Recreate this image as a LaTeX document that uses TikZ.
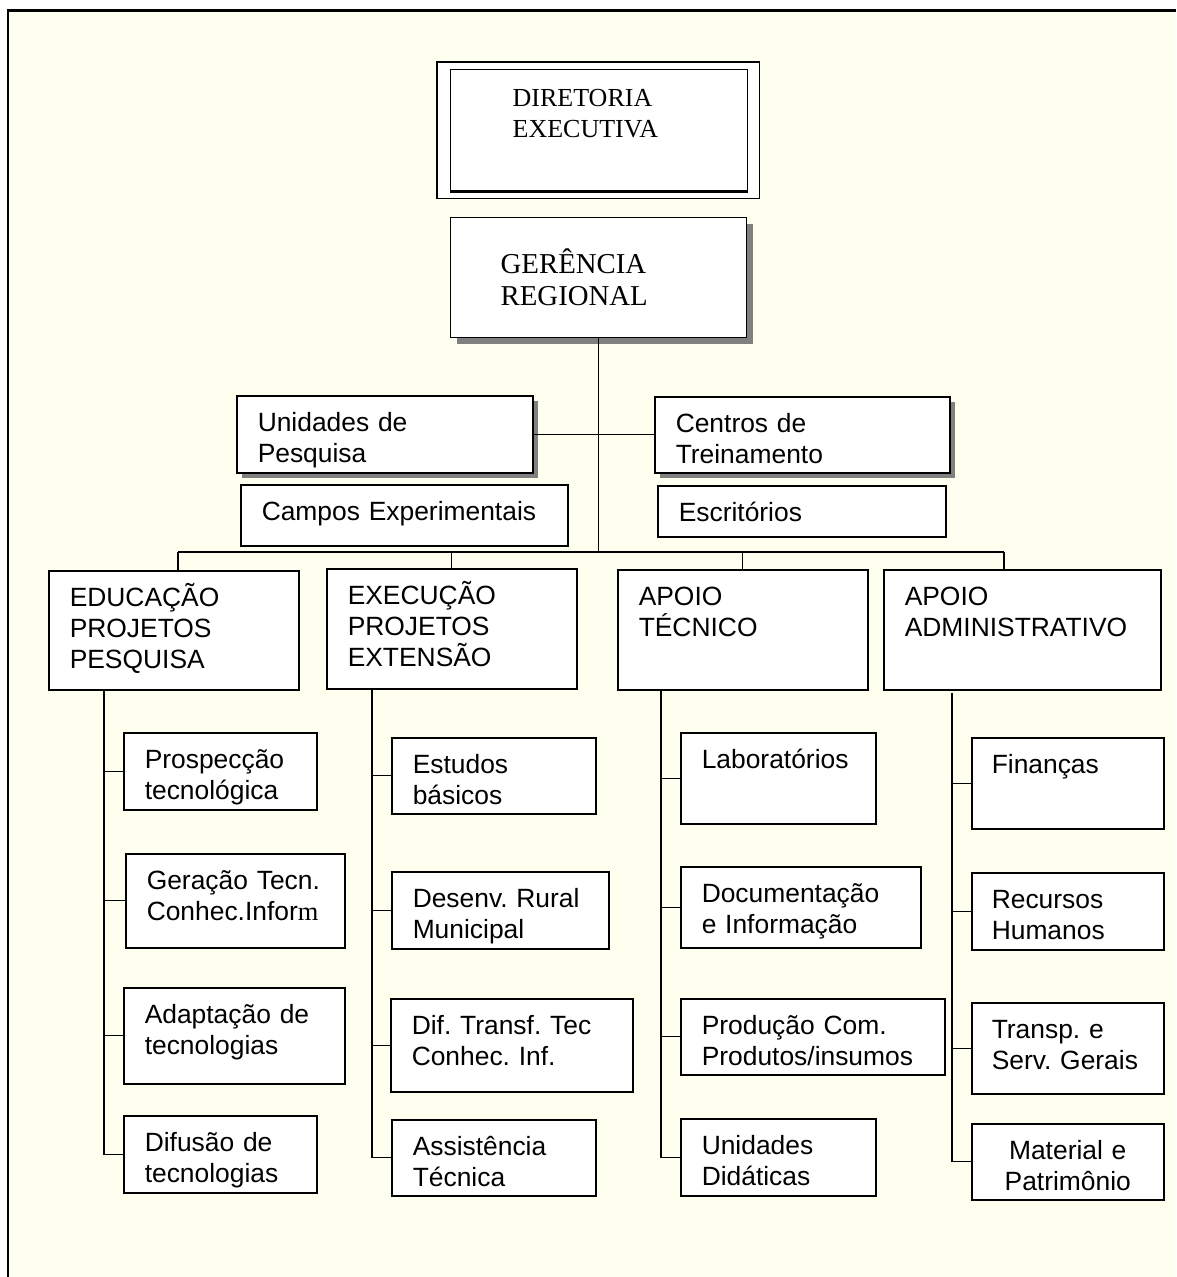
\documentclass[tikz,border=0pt]{standalone}
\usepackage{fontspec}
\setmainfont{Liberation Serif}
\setsansfont{Liberation Sans}
\usepackage{tikz}
\usetikzlibrary{positioning,calc,shadows,backgrounds}
\definecolor{orgivory}{HTML}{FFFFF0}
\definecolor{orgshade}{HTML}{808080}
\newcommand{\nohyph}{\hyphenpenalty=10000\exhyphenpenalty=10000\frenchspacing\relax}
\newcommand{\boxfont}{\sffamily\fontsize{26.4pt}{31pt}\selectfont\nohyph}
\tikzset{
  orgbox/.style    = {draw, fill=white, line width=1.5pt, anchor=north west,
                      align=left, inner xsep=21pt, inner ysep=0pt,
                      text height=36pt, font=\boxfont},
  shadowbox/.style = {orgbox, drop shadow={shadow xshift=5pt, shadow yshift=-5pt,
                      fill=orgshade, opacity=1}},
  dirbox/.style    = {orgbox, line width=1.3pt, inner xsep=62pt, text height=37pt,
                      font=\rmfamily\fontsize{26pt}{31pt}\selectfont},
  gerbox/.style    = {orgbox, line width=1.3pt, inner xsep=50pt, text height=55.5pt,
                      font=\rmfamily\fontsize{28.8pt}{32pt}\selectfont,
                      drop shadow={shadow xshift=6pt, shadow yshift=-6pt,
                      fill=orgshade, opacity=1}},
  link/.style      = {draw, line width=1.4pt},
}

\begin{document}
\begin{tikzpicture}[x=1pt, y=-1pt]

  \useasboundingbox (0,0) rectangle (1176,1277);

  % top of the chart
  \node[dirbox, text width=173pt, text depth=84pt] (dir) at (450,69)
      {DIRETORIA\\EXECUTIVA};
  \draw[line width=2.6pt] (dir.south west) -- (dir.south east);
  \node[gerbox, text width=196pt, text depth=64.5pt] (ger) at (450,217)
      {GERÊNCIA\\REGIONAL};

  % units hanging on the spine
  \node[shadowbox, text width=254pt, text depth=41pt] (unid) at (236,395)
      {Unidades de\\Pesquisa};
  \node[shadowbox, text width=253pt, text depth=40pt] (centros) at (654,396)
      {Centros de\\Treinamento};
  \node[orgbox, text width=285pt, text depth=25pt] (campos) at (240,484)
      {Campos Experimentais};
  \node[orgbox, text width=246pt, text depth=15pt] (escr) at (657,485)
      {Escritórios};

  % the four departments
  \node[orgbox, text width=208pt, text depth=83pt] (edu) at (48,570)
      {EDUCAÇÃO\\PROJETOS\\PESQUISA};
  \node[orgbox, text width=208pt, text depth=84pt] (exe) at (326,568)
      {EXECUÇÃO\\PROJETOS\\EXTENSÃO};
  \node[orgbox, text width=208pt, text depth=84pt] (apt) at (617,569)
      {APOIO\\TÉCNICO};
  \node[orgbox, text width=235pt, text depth=84pt] (apa) at (883,569)
      {APOIO\\ADMINISTRATIVO};

  % sections, column by column
  \node[orgbox, text width=151pt, text depth=41pt] (prosp) at (123,732)
      {Prospecção\\tecnológica};
  \node[orgbox, text width=177pt, text depth=58pt] (gera) at (125,853)
      {Geração Tecn.\\Conhec.Infor{\rmfamily m}};
  \node[orgbox, text width=179pt, text depth=60pt] (adapt) at (123,987)
      {Adaptação de\\tecnologias};
  \node[orgbox, text width=151pt, text depth=41pt] (difus) at (123,1115)
      {Difusão de\\tecnologias};

  \node[orgbox, text width=162pt, text depth=40pt] (estud) at (391,737)
      {Estudos\\básicos};
  \node[orgbox, text width=175pt, text depth=41pt] (desenv) at (391,871)
      {Desenv. Rural\\Municipal};
  \node[orgbox, text width=200pt, text depth=57pt] (diftr) at (390,998)
      {Dif. Transf. Tec\\Conhec. Inf.};
  \node[orgbox, text width=162pt, text depth=40pt] (assist) at (391,1119)
      {Assistência\\Técnica};

  \node[orgbox, text width=153pt, text depth=55pt] (lab) at (680,732)
      {Laboratórios};
  \node[orgbox, text width=198pt, text depth=45pt] (docum) at (680,866)
      {Documentação\\e Informação};
  \node[orgbox, text width=222pt, text depth=40pt] (prod) at (680,998)
      {Produção Com.\\Produtos/insumos};
  \node[orgbox, text width=153pt, text depth=41pt] (unidid) at (680,1118)
      {Unidades\\Didáticas};

  \node[orgbox, text width=152pt, inner xsep=20pt, text depth=55pt] (finan) at (971,737)
      {Finanças};
  \node[orgbox, text width=152pt, inner xsep=20pt, text depth=41pt] (recur) at (971,872)
      {Recursos\\Humanos};
  \node[orgbox, text width=152pt, inner xsep=20pt, text depth=55pt] (transp) at (971,1002)
      {Transp. e\\Serv. Gerais};
  \node[orgbox, text width=152pt, inner xsep=20pt, text depth=40pt, align=center]
      (mater) at (971,1123) {Material e\\Patrimônio};

  % page colour, frame and the outer line of the top box
  \begin{pgfonlayer}{background}
    \fill[white] (0,0) rectangle (1176,1277);
    \fill[orgivory] (8,10.5) rectangle (1176,1277);
    \draw[line width=2.5pt] (8,1277) -- (8,10.5) -- (1176,10.5);
    \draw[line width=1.3pt, fill=white] ([shift={(-13,-7)}]dir.north west)
      rectangle ([shift={(11,7)}]dir.south east);
  \end{pgfonlayer}

  % spine and bus
  \coordinate (busL) at (178,552);
  \coordinate (busR) at (1004,552);
  \draw[link] (ger.south) -- (ger.south |- busL);
  \draw[link] (unid.east) -- (unid.east -| centros.west);
  \draw[link] (busL) -- (busR);
  \draw[link] (busL) -- (busL |- edu.north);
  \draw[link] (exe.north |- busL) -- (exe.north);
  \draw[link] (apt.north |- busL) -- (apt.north);
  \draw[link] (busR) -- (busR |- apa.north);

  % column spines with their ticks
  \coordinate (sp1) at (104,689);
  \coordinate (sp2) at (372,689);
  \coordinate (sp3) at (661,689);
  \coordinate (sp4) at (952,693);
  \draw[link] (sp1) |- (difus.west);
  \foreach \n in {prosp,gera,adapt} \draw[link] (sp1 |- \n.west) -- (\n.west);
  \draw[link] (sp2) |- (assist.west);
  \foreach \n in {estud,desenv,diftr} \draw[link] (sp2 |- \n.west) -- (\n.west);
  \draw[link] (sp3) |- (unidid.west);
  \foreach \n in {lab,docum,prod} \draw[link] (sp3 |- \n.west) -- (\n.west);
  \draw[link] (sp4) |- (mater.west);
  \foreach \n in {finan,recur,transp} \draw[link] (sp4 |- \n.west) -- (\n.west);

\end{tikzpicture}
\end{document}
